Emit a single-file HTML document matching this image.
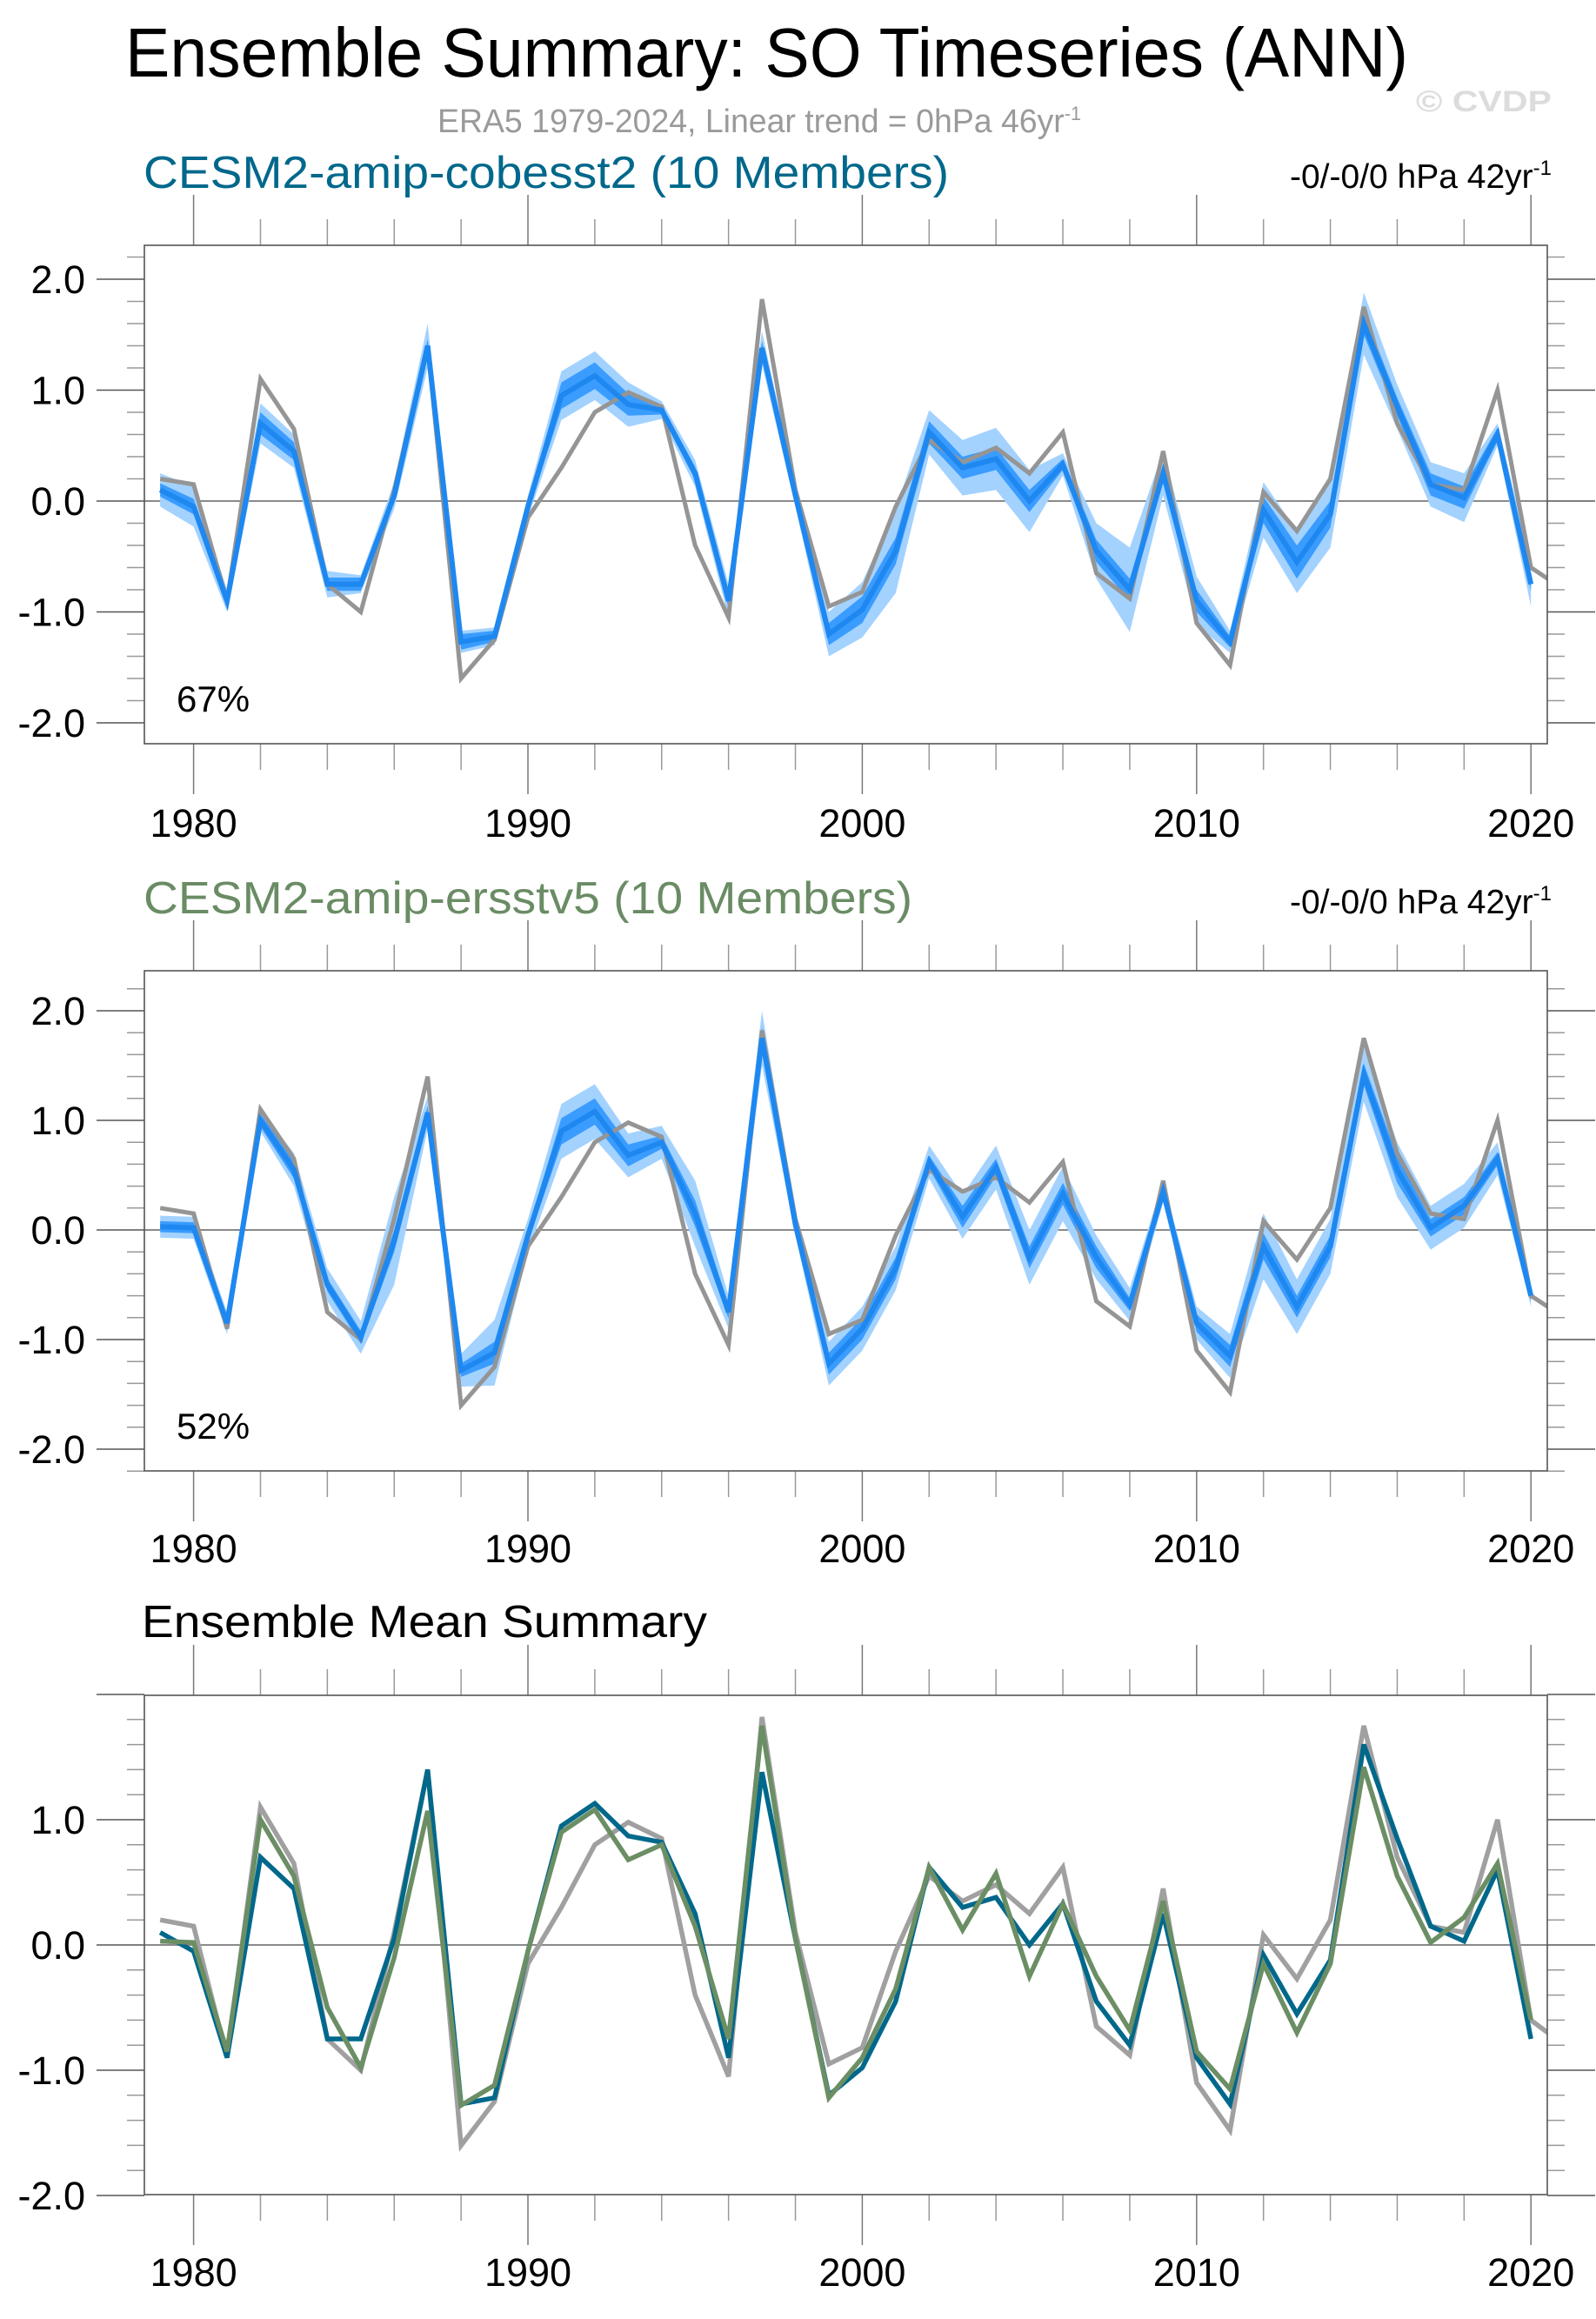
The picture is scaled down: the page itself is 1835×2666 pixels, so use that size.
<!DOCTYPE html>
<html><head><meta charset="utf-8"><style>
html,body{margin:0;padding:0;background:#fff;}
svg{display:block;font-family:"Liberation Sans",sans-serif;}
</style></head><body>
<svg id="chart" width="1835" height="2666" viewBox="0 0 1835 2666" xmlns="http://www.w3.org/2000/svg">
<text x="144" y="88" font-size="80" textLength="1475" lengthAdjust="spacingAndGlyphs" fill="#000">Ensemble Summary: SO Timeseries (ANN)</text>
<text x="1628" y="128" font-size="34" font-weight="bold" fill="#dcdcdc" textLength="156" lengthAdjust="spacingAndGlyphs">© CVDP</text>
<text x="503" y="152" font-size="38" fill="#9a9a9a" textLength="740" lengthAdjust="spacingAndGlyphs">ERA5 1979-2024, Linear trend = 0hPa 46yr<tspan dy="-14" font-size="22">-1</tspan></text>
<text x="165" y="216" font-size="52" fill="#00688b" textLength="926" lengthAdjust="spacingAndGlyphs">CESM2-amip-cobesst2 (10 Members)</text>
<text x="1784" y="216" font-size="39" fill="#000" text-anchor="end">-0/-0/0 hPa 42yr<tspan dy="-15" font-size="24">-1</tspan></text>
<text x="165" y="1050" font-size="52" fill="#6a8c64" textLength="884" lengthAdjust="spacingAndGlyphs">CESM2-amip-ersstv5 (10 Members)</text>
<text x="1784" y="1050" font-size="39" fill="#000" text-anchor="end">-0/-0/0 hPa 42yr<tspan dy="-15" font-size="24">-1</tspan></text>
<text x="163" y="1882" font-size="52" fill="#000" textLength="650" lengthAdjust="spacingAndGlyphs">Ensemble Mean Summary</text>
<g id="plots"></g>
</svg>
<script>
const years = [];
for (let y = 1979; y <= 2021; y++) years.push(y);
const obs = [0.2,0.15,-0.9,1.1,0.65,-0.75,-1.0,0.1,1.4,-1.6,-1.25,-0.15,0.3,0.8,0.98,0.85,-0.4,-1.05,1.82,0.1,-0.95,-0.82,-0.05,0.55,0.35,0.48,0.25,0.62,-0.65,-0.88,0.45,-1.1,-1.48,0.08,-0.27,0.2,1.75,0.7,0.15,0.1,1.0,-0.6,-0.8];
const mean1 = [0.1,-0.05,-0.9,0.7,0.45,-0.75,-0.75,0.05,1.4,-1.27,-1.22,-0.05,0.95,1.13,0.87,0.82,0.25,-0.9,1.38,0.05,-1.2,-0.98,-0.45,0.62,0.3,0.38,0.0,0.33,-0.45,-0.8,0.25,-0.9,-1.27,-0.08,-0.55,-0.12,1.6,0.85,0.15,0.03,0.6,-0.75];
const light1 = [0.15,0.18,0.1,0.18,0.15,0.12,0.08,0.12,0.2,0.1,0.08,0.1,0.22,0.22,0.2,0.08,0.12,0.15,0.15,0.1,0.2,0.25,0.38,0.2,0.25,0.28,0.28,0.1,0.25,0.38,0.2,0.22,0.1,0.25,0.28,0.3,0.28,0.2,0.2,0.22,0.1,0.2];
const dark1 = [0.06,0.07,0.04,0.1,0.08,0.06,0.06,0.05,0.06,0.07,0.05,0.05,0.12,0.12,0.1,0.04,0.06,0.06,0.06,0.05,0.1,0.12,0.12,0.1,0.1,0.1,0.1,0.05,0.1,0.1,0.06,0.1,0.05,0.12,0.15,0.12,0.1,0.08,0.1,0.1,0.06,0.06];
const mean2 = [0.03,0.02,-0.85,1.0,0.55,-0.5,-0.98,-0.1,1.07,-1.28,-1.12,-0.05,0.9,1.08,0.68,0.8,0.15,-0.75,1.75,0.05,-1.22,-0.9,-0.35,0.62,0.12,0.57,-0.25,0.33,-0.25,-0.68,0.35,-0.85,-1.15,-0.15,-0.7,-0.15,1.42,0.55,0.02,0.22,0.65,-0.6];
const light2 = [0.1,0.1,0.1,0.1,0.15,0.15,0.15,0.4,0.15,0.15,0.3,0.15,0.25,0.25,0.2,0.15,0.3,0.15,0.25,0.1,0.2,0.2,0.2,0.15,0.2,0.2,0.25,0.25,0.2,0.15,0.1,0.15,0.2,0.3,0.25,0.25,0.25,0.25,0.2,0.2,0.15,0.1];
const dark2 = [0.05,0.05,0.05,0.06,0.08,0.06,0.06,0.1,0.06,0.06,0.1,0.06,0.12,0.12,0.1,0.06,0.12,0.06,0.1,0.05,0.1,0.1,0.1,0.06,0.1,0.08,0.1,0.1,0.1,0.06,0.05,0.08,0.1,0.12,0.1,0.1,0.1,0.12,0.08,0.08,0.06,0.05];
const xTickLabels = ["1980","1990","2000","2010","2020"];
const yTickLabels12 = ["-2.0","-1.0","0.0","1.0","2.0"];
const yTickLabels3 = ["-2.0","-1.0","0.0","1.0"];
const pctLabels = ["67%","52%"];

const NS = "http://www.w3.org/2000/svg";
const root = document.getElementById('plots');
const X0 = 166, X1 = 1779;
const x = v => 222.6 + (v - 1980) * 38.44;
function mk(tag, attrs, parent) {
  const e = document.createElementNS(NS, tag);
  for (const k in attrs) e.setAttribute(k, attrs[k]);
  (parent || root).appendChild(e);
  return e;
}
function panel(cfg) {
  const g = mk('g', {});
  
  
  const y = v => cfg.y0 - v * cfg.unit;
  const cp = 'clip-' + cfg.name;
  const defs = mk('defs', {}, g);
  const c = mk('clipPath', {id: cp}, defs);
  mk('rect', {x: X0, y: cfg.top, width: X1 - X0, height: cfg.bot - cfg.top}, c);
  for (let yr = 1980; yr <= 2020; yr += 2) {
    const maj = yr % 10 === 0;
    const L = maj ? 58 : 30;
    const t1 = mk('line', {x1: x(yr), x2: x(yr), y1: cfg.top - L, y2: cfg.top, stroke: maj ? '#777' : '#999', 'stroke-width': 1.5}, g);
    
    
    const t2 = mk('line', {x1: x(yr), x2: x(yr), y1: cfg.bot, y2: cfg.bot + L, stroke: maj ? '#777' : '#999', 'stroke-width': 1.5}, g);
    
    
  }
  for (let k = -12; k <= 12; k++) {
    const v = k / 5;
    const py = y(v);
    if (py < cfg.top - 1 || py > cfg.bot + 1) continue;
    const maj = k % 5 === 0;
    const L = maj ? 55 : 20;
    const t = mk('line', {x1: X0 - L, x2: X0, y1: py, y2: py, stroke: maj ? '#555' : '#999', 'stroke-width': 1.5}, g);
    
    
    const t2 = mk('line', {x1: X1, x2: X1 + L, y1: py, y2: py, stroke: maj ? '#555' : '#999', 'stroke-width': 1.5}, g);
    
    
  }
  const zl = mk('line', {x1: X0, x2: X1, y1: y(0), y2: y(0), stroke: '#8a8a8a', 'stroke-width': 2}, g);
  
  
  const inner = mk('g', {'clip-path': 'url(#' + cp + ')'}, g);
  function band(m, s, fill, nm) {
    let pts = [];
    for (let i = 0; i < m.length; i++) pts.push(x(years[i]) + ',' + y(m[i] + s[i]));
    for (let i = m.length - 1; i >= 0; i--) pts.push(x(years[i]) + ',' + y(m[i] - s[i]));
    const p = mk('polygon', {points: pts.join(' '), fill: fill}, inner);
    
    
  }
  function line(m, col, w, nm) {
    const pts = m.map((v, i) => x(years[i]) + ',' + y(v)).join(' ');
    const p = mk('polyline', {points: pts, fill: 'none', stroke: col, 'stroke-width': w, 'stroke-linejoin': 'miter'}, inner);
    
    
  }
  if (cfg.mean) {
    band(cfg.mean, cfg.light, '#a3d2ff', 'ensemble-range-band');
    band(cfg.mean, cfg.dark, '#3a9cff', 'ensemble-iqr-band');
    line(obs, '#959595', 5, 'observed-line');
    line(cfg.mean, '#1e88f0', 6, 'ensemble-mean-line');
  } else {
    line(obs, '#a0a0a0', 5.5, 'observed-line');
    line(mean1, '#00688b', 5.5, 'cobesst2-mean-line');
    line(mean2, '#6b8e64', 5.5, 'ersstv5-mean-line');
  }
  const box = mk('rect', {x: X0, y: cfg.top, width: X1 - X0, height: cfg.bot - cfg.top, fill: 'none', stroke: '#555', 'stroke-width': 1.6}, g);
  
  
  xTickLabels.forEach(l => {
    const t = mk('text', {x: x(+l), y: cfg.labY, 'font-size': 45, 'text-anchor': 'middle', fill: '#000'}, g);
    t.textContent = l;
    
    
  });
  cfg.yLabels.forEach(l => {
    const t = mk('text', {x: 98, y: y(+l) + 16, 'font-size': 45, 'text-anchor': 'end', fill: '#000'}, g);
    t.textContent = l;
    
    
  });
  if (cfg.pct) {
    const t = mk('text', {x: 203, y: cfg.bot - 37, 'font-size': 42, fill: '#000'}, g);
    t.textContent = cfg.pct;
    
    
  }
}
panel({name: 'panel-cobesst2', top: 282, bot: 855, y0: 576, unit: 127.5, labY: 962, mean: mean1, light: light1, dark: dark1, yLabels: yTickLabels12, pct: pctLabels[0]});
panel({name: 'panel-ersstv5', top: 1116, bot: 1691, y0: 1414, unit: 126, labY: 1796, mean: mean2, light: light2, dark: dark2, yLabels: yTickLabels12, pct: pctLabels[1]});
panel({name: 'panel-ensemble-mean', top: 1949, bot: 2523, y0: 2236, unit: 144, labY: 2628, yLabels: yTickLabels3});
</script>
</body></html>
